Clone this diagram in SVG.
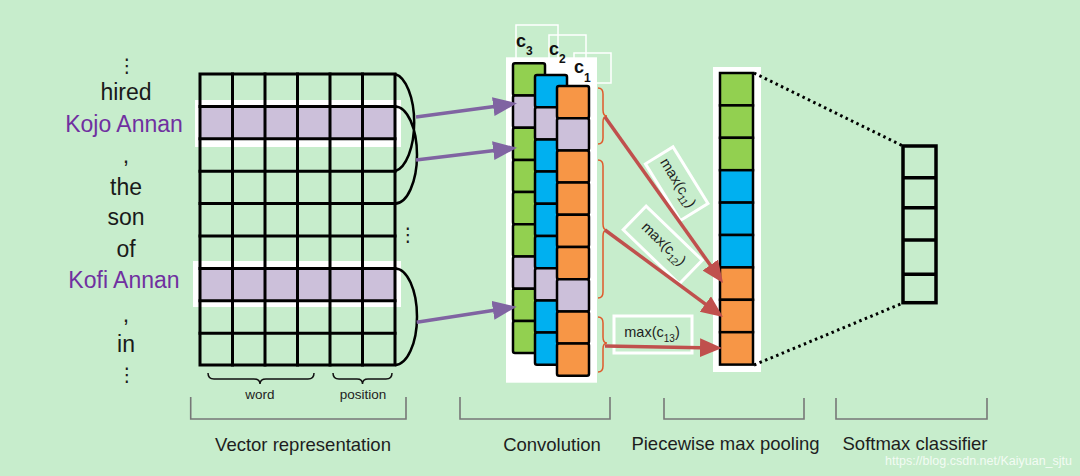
<svg xmlns="http://www.w3.org/2000/svg" width="1080" height="476" viewBox="0 0 1080 476">
<defs>
<style>
.w{font-family:"Liberation Sans",Arial,sans-serif;font-size:23px;fill:#1a1a1a;text-anchor:middle}
.p{fill:#7030a0}
.dots{font-family:"DejaVu Sans",sans-serif;font-size:19px;fill:#1a1a1a;text-anchor:middle}
.sec{font-family:"Liberation Sans",Arial,sans-serif;font-size:18.5px;fill:#1e1e1e;text-anchor:middle}
.sm{font-family:"Liberation Sans",Arial,sans-serif;font-size:13.5px;fill:#1e1e1e;text-anchor:middle}
.mx{font-family:"Liberation Sans",Arial,sans-serif;font-size:14.5px;fill:#1e1e1e;text-anchor:middle}
.cl{font-family:"Liberation Sans",Arial,sans-serif;font-size:18px;font-weight:bold;fill:#111}
.gl{stroke:#000;stroke-width:3;fill:none;stroke-linecap:square}
.cell{stroke:#000;stroke-width:2.5}
.G{fill:#92d050}.B{fill:#00b0f0}.O{fill:#f79646}.U{fill:#ccc0da}
.brk{fill:none;stroke:#777;stroke-width:1.6}
.rb{fill:none;stroke:#e05a2b;stroke-width:1.5}
.bb{fill:none;stroke:#111;stroke-width:1.5}
.wb{fill:none;stroke:#fff;stroke-width:3}
</style>
<marker id="pa" markerUnits="userSpaceOnUse" markerWidth="26" markerHeight="20" refX="16" refY="9.5" orient="auto"><path d="M0,0 L24,9.5 L0,19 z" fill="#8064a2"/></marker>
<marker id="ra" markerUnits="userSpaceOnUse" markerWidth="24" markerHeight="20" refX="14" refY="9.5" orient="auto"><path d="M0,0 L22,9.5 L0,19 z" fill="#c0504d"/></marker>
</defs>
<rect width="1080" height="476" fill="#c7edcc"/>

<g id="words">
<text class="dots" x="127" y="72">⋮</text>
<text class="w" x="126" y="100">hired</text>
<text class="w p" x="124" y="132">Kojo Annan</text>
<text class="w" x="126" y="163">,</text>
<text class="w" x="126" y="195">the</text>
<text class="w" x="126" y="225">son</text>
<text class="w" x="126" y="257">of</text>
<text class="w p" x="124" y="288">Kofi Annan</text>
<text class="w" x="126" y="322">,</text>
<text class="w" x="126" y="352">in</text>
<text class="dots" x="127" y="381">⋮</text>
</g>

<g id="vector-grid">
<rect x="195" y="100" width="206" height="47" fill="#fff"/>
<rect x="193" y="261" width="208" height="46" fill="#fff"/>
<rect class="U" x="200" y="106.4" width="195" height="32.4"/>
<rect class="U" x="200" y="268.6" width="195" height="32.4"/>
<rect class="gl" x="200" y="74" width="195" height="291"/>
<path class="gl" d="M232.5,74V365M265,74V365M297.5,74V365M330,74V365M362.5,74V365
M200,106.4H395M200,138.8H395M200,171.2H395M200,203.6H395M200,236H395M200,268.4H395M200,300.8H395M200,333.2H395"/>
<path fill="none" stroke="#000" stroke-width="2.5" d="M395,74 A22,49 0 0 1 395,171.2 M395,106.4 A22,48.6 0 0 1 395,203.6 M395,268.4 A22,48.3 0 0 1 395,365"/>
<text class="dots" x="408" y="241">⋮</text>
<path class="bb" d="M208,373 Q208,379 214,379 L254,379 Q260,379 260,384 Q260,379 266,379 L308,379 Q314,379 314,373"/>
<path class="bb" d="M333,373 Q333,379 339,379 L357,379 Q362.5,379 362.5,384 Q362.5,379 368,379 L386,379 Q392,379 392,373"/>
<text class="sm" x="260" y="399">word</text>
<text class="sm" x="363" y="399">position</text>
</g>

<g id="convolution">
<rect x="516" y="25" width="42" height="42" fill="none" stroke="#fff" stroke-width="1.5"/>
<rect x="549" y="35" width="37" height="37" fill="none" stroke="#fff" stroke-width="1.5"/>
<rect x="574" y="53" width="37" height="30" fill="none" stroke="#fff" stroke-width="1.5"/>
<rect x="506" y="57.3" width="91" height="325.4" fill="#fff"/>
<g id="c3-col">
<rect class="cell G" x="513" y="63.3" width="32" height="32.2" rx="2"/>
<rect class="cell U" x="513" y="95.5" width="32" height="32.2" rx="2"/>
<rect class="cell G" x="513" y="127.7" width="32" height="32.2" rx="2"/>
<rect class="cell G" x="513" y="159.9" width="32" height="32.2" rx="2"/>
<rect class="cell G" x="513" y="192.1" width="32" height="32.2" rx="2"/>
<rect class="cell G" x="513" y="224.3" width="32" height="32.2" rx="2"/>
<rect class="cell U" x="513" y="256.5" width="32" height="32.2" rx="2"/>
<rect class="cell G" x="513" y="288.7" width="32" height="32.2" rx="2"/>
<rect class="cell G" x="513" y="320.9" width="32" height="32.2" rx="2"/>
</g>
<g id="c2-col">
<rect class="cell B" x="535" y="75" width="32" height="32.2" rx="2"/>
<rect class="cell U" x="535" y="107.2" width="32" height="32.2" rx="2"/>
<rect class="cell B" x="535" y="139.4" width="32" height="32.2" rx="2"/>
<rect class="cell B" x="535" y="171.6" width="32" height="32.2" rx="2"/>
<rect class="cell B" x="535" y="203.8" width="32" height="32.2" rx="2"/>
<rect class="cell B" x="535" y="236" width="32" height="32.2" rx="2"/>
<rect class="cell U" x="535" y="268.2" width="32" height="32.2" rx="2"/>
<rect class="cell B" x="535" y="300.4" width="32" height="32.2" rx="2"/>
<rect class="cell B" x="535" y="332.6" width="32" height="32.2" rx="2"/>
</g>
<g id="c1-col">
<rect class="cell O" x="557" y="86" width="32" height="32.2" rx="2"/>
<rect class="cell U" x="557" y="118.2" width="32" height="32.2" rx="2"/>
<rect class="cell O" x="557" y="150.4" width="32" height="32.2" rx="2"/>
<rect class="cell O" x="557" y="182.6" width="32" height="32.2" rx="2"/>
<rect class="cell O" x="557" y="214.8" width="32" height="32.2" rx="2"/>
<rect class="cell O" x="557" y="247" width="32" height="32.2" rx="2"/>
<rect class="cell U" x="557" y="279.2" width="32" height="32.2" rx="2"/>
<rect class="cell O" x="557" y="311.4" width="32" height="32.2" rx="2"/>
<rect class="cell O" x="557" y="343.6" width="32" height="32.2" rx="2"/>
</g>
<text class="cl" x="516" y="47">c<tspan font-size="12" dy="8">3</tspan></text>
<text class="cl" x="549" y="55">c<tspan font-size="12" dy="8">2</tspan></text>
<text class="cl" x="574" y="73">c<tspan font-size="12" dy="9">1</tspan></text>
<path class="rb" d="M598,88 Q603,88 603,94 L603,110 Q603,116 607,116 Q603,116 603,122 L603,138 Q603,144 598,144"/>
<path class="rb" d="M598,160 Q603,160 603,166 L603,224 Q603,230 607,230 Q603,230 603,236 L603,292 Q603,298 598,298"/>
<path class="rb" d="M598,317 Q603,317 603,323 L603,337 Q603,343 607,343 Q603,343 603,349 L603,366 Q603,372 598,372"/>
</g>

<g id="max-labels">
<g transform="translate(676.7,183.7) rotate(58.3)">
<rect class="wb" x="-33.3" y="-16.2" width="66.6" height="32.4"/>
<text class="mx" x="0" y="3">max(c<tspan font-size="10" dy="4">11</tspan><tspan dy="-4">)</tspan></text>
</g>
<g transform="translate(662.7,245) rotate(44)">
<rect class="wb" x="-39" y="-16.5" width="78" height="33"/>
<text class="mx" x="0" y="3">max(c<tspan font-size="10" dy="4">12</tspan><tspan dy="-4">)</tspan></text>
</g>
<rect class="wb" x="614" y="316" width="78" height="37"/>
<text class="mx" x="652" y="337">max(c<tspan font-size="10" dy="5">13</tspan><tspan dy="-5">)</tspan></text>
</g>

<g id="pooling">
<rect x="713" y="67" width="48" height="305" fill="#fff"/>
<rect class="cell G" x="720" y="73" width="33" height="32.4"/>
<rect class="cell G" x="720" y="105.4" width="33" height="32.4"/>
<rect class="cell G" x="720" y="137.8" width="33" height="32.4"/>
<rect class="cell B" x="720" y="170.2" width="33" height="32.4"/>
<rect class="cell B" x="720" y="202.6" width="33" height="32.4"/>
<rect class="cell B" x="720" y="235" width="33" height="32.4"/>
<rect class="cell O" x="720" y="267.4" width="33" height="32.4"/>
<rect class="cell O" x="720" y="299.8" width="33" height="32.4"/>
<rect class="cell O" x="720" y="332.2" width="33" height="32.4"/>
</g>

<g id="softmax">
<rect x="903" y="146" width="33" height="156.7" fill="none" stroke="#000" stroke-width="3.5"/>
<path stroke="#000" stroke-width="3.5" d="M903,177.7H936M903,207.7H936M903,240H936M903,274.3H936"/>
</g>

<g id="connectors">
<g stroke="#8064a2" stroke-width="3.5" fill="none">
<line x1="416" y1="117" x2="509.1" y2="104.4" marker-end="url(#pa)"/>
<line x1="416" y1="160" x2="509.1" y2="148.7" marker-end="url(#pa)"/>
<line x1="416.7" y1="322.3" x2="508.8" y2="307.9" marker-end="url(#pa)"/>
</g>
<g stroke="#c0504d" stroke-width="3.5" fill="none">
<line x1="605" y1="117" x2="718.4" y2="276.5" marker-end="url(#ra)"/>
<line x1="605" y1="230" x2="716.6" y2="312.3" marker-end="url(#ra)"/>
<line x1="605" y1="346" x2="714" y2="347.9" marker-end="url(#ra)"/>
</g>
<g stroke="#000" stroke-width="3" stroke-dasharray="2.5 3.5" fill="none">
<line x1="754" y1="73" x2="903" y2="146"/>
<line x1="754" y1="365" x2="903" y2="303"/>
</g>
</g>

<g id="stages">
<path class="brk" d="M190.7,397V419H406V397"/>
<path class="brk" d="M460,397V419H610V397"/>
<path class="brk" d="M664,398V419H804V398"/>
<path class="brk" d="M836,398V419H987V398"/>
<text class="sec" x="303" y="451">Vector representation</text>
<text class="sec" x="552" y="451">Convolution</text>
<text class="sec" x="725.5" y="450">Piecewise max pooling</text>
<text class="sec" x="915" y="450">Softmax classifier</text>
<text x="1072" y="465" font-family="Liberation Sans,Arial,sans-serif" font-size="12.5" fill="#fff" fill-opacity="0.8" text-anchor="end">https://blog.csdn.net/Kaiyuan_sjtu</text>
</g>
</svg>
